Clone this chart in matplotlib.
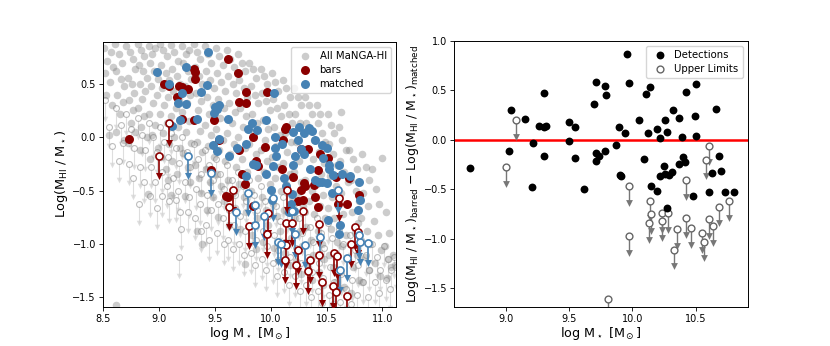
import matplotlib

matplotlib.use("Agg")
import matplotlib.pyplot as plt
import numpy as np

# ---- all MaNGA-HI sample (background cloud) ----
gray_det = [
    (8.51, 0.84), (8.54, 0.72), (8.57, 0.80), (8.52, 0.60), (8.56, 0.52), (8.59, 0.66), (8.53, 0.40), (8.58, 0.30), (8.55, 0.02),
    (8.61, 0.88), (8.64, 0.78), (8.67, 0.70), (8.62, 0.62), (8.66, 0.55), (8.69, 0.48), (8.63, 0.40), (8.68, 0.33), (8.65, 0.22), (8.62, 0.05), (8.69, -0.02),
    (8.71, 0.86), (8.74, 0.80), (8.77, 0.74), (8.79, 0.64), (8.72, 0.56), (8.76, 0.50), (8.78, 0.42), (8.73, 0.35), (8.77, 0.26), (8.75, 0.14), (8.79, 0.05), (8.72, -0.05),
    (8.81, 0.88), (8.84, 0.82), (8.87, 0.76), (8.82, 0.68), (8.86, 0.62), (8.89, 0.56), (8.83, 0.50), (8.88, 0.44), (8.85, 0.36), (8.81, 0.28), (8.87, 0.20), (8.84, 0.10), (8.89, 0.00), (8.83, -0.12),
    (8.91, 0.86), (8.94, 0.78), (8.97, 0.84), (8.92, 0.70), (8.96, 0.62), (8.99, 0.55), (8.93, 0.48), (8.98, 0.40), (8.95, 0.32), (8.91, 0.22), (8.97, 0.12), (8.94, 0.02), (8.99, -0.10), (8.92, -0.20), (8.90, -0.53),
    (9.01, 0.88), (9.04, 0.82), (9.07, 0.76), (9.02, 0.68), (9.06, 0.60), (9.09, 0.54), (9.03, 0.46), (9.08, 0.38), (9.05, 0.30), (9.01, 0.22), (9.07, 0.14), (9.04, 0.04), (9.09, -0.06), (9.02, -0.18), (9.06, -0.30), (9.08, -0.40),
    (9.11, 0.87), (9.14, 0.80), (9.17, 0.72), (9.12, 0.64), (9.16, 0.58), (9.19, 0.50), (9.13, 0.44), (9.18, 0.36), (9.15, 0.28), (9.11, 0.20), (9.17, 0.10), (9.14, 0.00), (9.19, -0.10), (9.12, -0.22), (9.16, -0.34), (9.11, -0.54),
    (9.21, 0.86), (9.24, 0.78), (9.27, 0.82), (9.22, 0.70), (9.26, 0.62), (9.29, 0.55), (9.23, 0.48), (9.28, 0.40), (9.25, 0.32), (9.21, 0.24), (9.27, 0.15), (9.24, 0.05), (9.29, -0.05), (9.22, -0.15), (9.26, -0.28), (9.28, -0.42), (9.23, -0.55),
    (9.31, 0.88), (9.34, 0.80), (9.37, 0.74), (9.32, 0.66), (9.36, 0.58), (9.39, 0.50), (9.33, 0.42), (9.38, 0.34), (9.35, 0.26), (9.31, 0.16), (9.37, 0.06), (9.34, -0.04), (9.39, -0.14), (9.32, -0.26), (9.36, -0.38), (9.38, -0.52), (9.34, -0.88), (9.39, -1.00),
    (9.41, 0.86), (9.44, 0.78), (9.47, 0.70), (9.42, 0.62), (9.46, 0.54), (9.49, 0.46), (9.43, 0.38), (9.48, 0.30), (9.45, 0.22), (9.41, 0.12), (9.47, 0.02), (9.44, -0.08), (9.49, -0.18), (9.42, -0.30), (9.46, -0.42), (9.48, -0.56), (9.43, -0.68),
    (9.51, 0.84), (9.54, 0.76), (9.57, 0.68), (9.52, 0.60), (9.56, 0.52), (9.59, 0.44), (9.53, 0.36), (9.58, 0.28), (9.55, 0.18), (9.51, 0.08), (9.57, -0.02), (9.54, -0.12), (9.59, -0.22), (9.52, -0.34), (9.56, -0.46), (9.58, -0.60), (9.53, -0.75),
    (9.61, 0.82), (9.64, 0.74), (9.67, 0.66), (9.62, 0.58), (9.66, 0.50), (9.69, 0.42), (9.63, 0.32), (9.68, 0.24), (9.65, 0.14), (9.61, 0.04), (9.67, -0.06), (9.64, -0.16), (9.69, -0.28), (9.62, -0.40), (9.66, -0.52), (9.68, -0.66), (9.63, -0.82),
    (9.71, 0.78), (9.74, 0.70), (9.77, 0.62), (9.72, 0.54), (9.76, 0.46), (9.79, 0.38), (9.73, 0.28), (9.78, 0.20), (9.75, 0.10), (9.71, 0.00), (9.77, -0.10), (9.74, -0.20), (9.79, -0.32), (9.72, -0.44), (9.76, -0.56), (9.78, -0.70), (9.73, -0.86), (9.77, -1.19),
    (9.81, 0.70), (9.84, 0.64), (9.87, 0.56), (9.82, 0.48), (9.86, 0.40), (9.89, 0.32), (9.83, 0.22), (9.88, 0.14), (9.85, 0.04), (9.81, -0.06), (9.87, -0.16), (9.84, -0.26), (9.89, -0.38), (9.82, -0.50), (9.86, -0.62), (9.88, -0.76), (9.83, -0.92), (9.87, -1.05),
    (9.91, 0.64), (9.94, 0.58), (9.97, 0.50), (9.92, 0.42), (9.96, 0.34), (9.99, 0.26), (9.93, 0.16), (9.98, 0.08), (9.95, -0.02), (9.91, -0.12), (9.97, -0.22), (9.94, -0.32), (9.99, -0.44), (9.92, -0.56), (9.96, -0.68), (9.98, -0.82), (9.93, -0.98),
    (10.01, 0.60), (10.04, 0.52), (10.07, 0.44), (10.02, 0.36), (10.06, 0.28), (10.09, 0.20), (10.03, 0.10), (10.08, 0.02), (10.05, -0.08), (10.01, -0.18), (10.07, -0.28), (10.04, -0.38), (10.09, -0.50), (10.02, -0.62), (10.06, -0.74), (10.08, -0.88), (10.03, -1.04), (10.07, -1.15),
    (10.11, 0.54), (10.14, 0.46), (10.17, 0.38), (10.12, 0.30), (10.16, 0.22), (10.19, 0.14), (10.13, 0.04), (10.18, -0.04), (10.15, -0.14), (10.11, -0.24), (10.17, -0.34), (10.14, -0.44), (10.19, -0.56), (10.12, -0.68), (10.16, -0.80), (10.18, -0.94), (10.13, -1.08), (10.17, -1.20),
    (10.21, 0.46), (10.24, 0.38), (10.27, 0.30), (10.22, 0.22), (10.26, 0.14), (10.29, 0.06), (10.23, -0.04), (10.28, -0.12), (10.25, -0.22), (10.21, -0.32), (10.27, -0.42), (10.24, -0.52), (10.29, -0.64), (10.22, -0.76), (10.26, -0.88), (10.28, -1.02), (10.23, -1.16), (10.27, -1.28),
    (10.31, 0.38), (10.34, 0.30), (10.37, 0.22), (10.32, 0.14), (10.36, 0.06), (10.39, -0.02), (10.33, -0.12), (10.38, -0.20), (10.35, -0.30), (10.31, -0.40), (10.37, -0.50), (10.34, -0.60), (10.39, -0.72), (10.32, -0.84), (10.36, -0.96), (10.38, -1.10), (10.33, -1.22), (10.37, -1.34),
    (10.41, 0.30), (10.44, 0.22), (10.47, 0.50), (10.42, 0.14), (10.46, 0.04), (10.49, -0.04), (10.43, -0.14), (10.48, -0.24), (10.45, -0.34), (10.41, -0.44), (10.47, -0.54), (10.44, -0.64), (10.49, -0.76), (10.42, -0.88), (10.46, -1.00), (10.48, -1.14), (10.43, -1.26), (10.47, -1.38),
    (10.51, 0.22), (10.54, 0.12), (10.57, 0.04), (10.52, -0.06), (10.56, -0.16), (10.59, -0.26), (10.53, -0.36), (10.58, -0.46), (10.55, -0.56), (10.51, -0.66), (10.57, -0.76), (10.54, -0.86), (10.59, -0.98), (10.52, -1.10), (10.56, -1.22), (10.58, -1.36),
    (10.63, 0.24), (10.61, 0.10), (10.64, -0.02), (10.67, -0.12), (10.62, -0.22), (10.66, -0.32), (10.69, -0.42), (10.63, -0.52), (10.68, -0.62), (10.65, -0.72), (10.61, -0.82), (10.67, -0.92), (10.64, -1.02), (10.69, -1.14), (10.62, -1.26), (10.66, -1.40),
    (10.70, -0.12), (10.74, -0.20), (10.77, -0.30), (10.72, -0.40), (10.76, -0.50), (10.79, -0.60), (10.73, -0.70), (10.78, -0.80), (10.75, -0.90), (10.71, -1.00), (10.77, -1.10), (10.74, -1.22), (10.79, -1.34), (10.72, -1.46),
    (10.82, -0.16), (10.85, -0.28), (10.88, -0.40), (10.83, -0.52), (10.87, -0.64), (10.81, -0.76), (10.86, -0.88), (10.89, -1.00), (10.84, -1.12), (10.88, -1.24), (10.82, -1.36),
    (10.91, -0.30), (10.94, -0.48), (10.97, -0.62), (10.92, -0.78), (10.96, -0.92), (10.99, -1.06), (10.93, -1.18), (10.98, -1.30),
    (11.00, -0.19), (11.03, -0.70), (11.06, -0.90), (11.02, -1.02), (11.05, -1.14), (11.08, -1.22), (11.04, -1.32),
    (11.09, -1.10), (11.11, -1.20), (8.62, -1.57),
]

gray_lim = [
    (8.52, 0.35), (8.55, 0.10), (8.58, -0.08),
    (8.62, 0.28), (8.66, 0.12), (8.68, -0.05), (8.64, -0.22),
    (8.71, 0.22), (8.75, 0.08), (8.78, -0.10), (8.73, -0.25), (8.77, -0.38),
    (8.81, 0.18), (8.85, 0.02), (8.88, -0.12), (8.83, -0.28), (8.87, -0.42), (8.82, -0.62),
    (8.91, 0.14), (8.95, 0.00), (8.98, -0.14), (8.93, -0.28), (8.97, -0.42), (8.92, -0.55), (8.98, -0.66),
    (9.01, 0.10), (9.05, -0.04), (9.08, -0.18), (9.03, -0.32), (9.07, -0.46), (9.03, -0.55), (9.09, -0.60),
    (9.11, 0.04), (9.15, -0.10), (9.18, -0.24), (9.13, -0.38), (9.17, -0.50), (9.15, -0.59), (9.19, -0.70),
    (9.21, 0.00), (9.25, -0.14), (9.28, -0.28), (9.23, -0.42), (9.27, -0.56), (9.20, -0.86), (9.18, -1.12), (9.26, -0.70),
    (9.31, -0.06), (9.35, -0.20), (9.38, -0.34), (9.33, -0.48), (9.37, -0.62), (9.32, -0.76), (9.38, -0.88),
    (9.41, -0.12), (9.45, -0.26), (9.48, -0.40), (9.43, -0.54), (9.47, -0.68), (9.42, -0.82), (9.45, -0.96),
    (9.51, -0.20), (9.55, -0.34), (9.58, -0.48), (9.53, -0.62), (9.57, -0.76), (9.52, -0.90), (9.58, -1.00),
    (9.61, -0.26), (9.65, -0.40), (9.68, -0.54), (9.63, -0.68), (9.67, -0.82), (9.62, -0.96), (9.66, -1.05),
    (9.71, -0.32), (9.75, -0.46), (9.78, -0.60), (9.73, -0.74), (9.77, -0.88), (9.72, -1.00), (9.76, -1.10),
    (9.81, -0.40), (9.85, -0.54), (9.88, -0.68), (9.83, -0.82), (9.87, -0.96), (9.82, -1.08), (9.86, -1.20),
    (9.91, -0.46), (9.95, -0.60), (9.98, -0.74), (9.93, -0.88), (9.97, -1.02), (9.92, -1.14), (9.96, -1.24),
    (10.01, -0.50), (10.05, -0.64), (10.08, -0.78), (10.03, -0.92), (10.07, -1.06), (10.02, -1.18), (10.06, -1.30),
    (10.11, -0.56), (10.15, -0.70), (10.18, -0.84), (10.13, -0.98), (10.17, -1.12), (10.12, -1.26), (10.16, -1.38),
    (10.21, -0.62), (10.25, -0.76), (10.28, -0.90), (10.23, -1.04), (10.27, -1.18), (10.22, -1.30), (10.26, -1.44),
    (10.31, -0.70), (10.35, -0.84), (10.38, -0.98), (10.33, -1.12), (10.37, -1.26), (10.32, -1.38), (10.36, -1.50),
    (10.41, -0.76), (10.45, -0.90), (10.48, -1.04), (10.43, -1.18), (10.47, -1.32), (10.42, -1.44), (10.46, -1.55),
    (10.51, -0.80), (10.55, -0.94), (10.58, -1.08), (10.53, -1.22), (10.57, -1.36), (10.52, -1.48), (10.56, -1.56),
    (10.61, -0.86), (10.65, -1.00), (10.68, -1.14), (10.63, -1.28), (10.67, -1.42), (10.62, -1.54),
    (10.71, -0.92), (10.75, -1.06), (10.78, -1.20), (10.73, -1.34), (10.77, -1.48), (10.72, -1.56),
    (10.81, -0.96), (10.85, -1.10), (10.88, -1.24), (10.83, -1.36), (10.87, -1.50),
    (10.91, -1.00), (10.95, -1.12), (10.98, -1.24), (10.93, -1.36), (10.97, -1.46),
    (11.01, -1.02), (11.05, -1.14), (11.08, -1.24), (11.03, -1.34), (11.07, -1.42),
    (11.10, -1.12), (11.12, -1.22),
]

# ---- barred galaxies ----
bars_det = [
    (8.73, -0.01), (9.05, 0.50), (9.09, 0.48), (9.16, 0.38), (9.18, 0.48), (9.21, 0.47), (9.26, 0.45),
    (9.21, 0.17), (9.31, 0.64), (9.32, 0.61), (9.32, 0.55), (9.31, 0.165), (9.495, 0.165), (9.54, -0.025),
    (9.47, -0.31), (9.62, 0.735), (9.71, 0.60), (9.78, 0.43), (9.72, 0.33), (9.78, 0.32), (9.97, 0.43),
    (9.72, -0.12), (9.74, -0.34), (9.77, -0.44), (9.84, 0.005), (9.87, -0.22), (9.89, -0.27), (9.95, -0.09),
    (10.10, -0.30), (10.13, 0.08), (10.14, 0.10), (10.11, -0.02), (9.60, -0.55), (9.62, -0.56), (9.84, -0.64),
    (10.20, -0.37), (10.27, -0.11), (10.33, -0.11), (10.30, -0.43), (10.31, -0.46), (10.29, -0.59),
    (10.39, -0.45), (10.40, -0.56), (10.42, -0.65), (10.42, -0.31), (10.44, -0.16), (10.51, -0.19),
    (10.58, -0.37), (10.70, -0.38), (10.60, -0.62), (10.68, -0.62), (10.79, -0.54), (10.24, -0.60), (10.27, -0.49),
]
bars_lim = [
    (9.09, 0.14), (9.00, -0.17), (9.66, -0.49), (9.63, -0.65), (9.81, -0.83), (9.98, -0.71), (9.97, -0.91),
    (10.15, -0.49), (10.14, -0.80), (10.19, -0.80), (10.14, -1.01), (10.13, -1.15), (10.29, -0.69),
    (10.24, -1.06), (10.23, -1.20), (10.33, -1.25), (10.35, -1.15), (10.43, -0.81), (10.43, -1.10),
    (10.46, -1.36), (10.56, -1.39), (10.57, -1.08), (10.59, -1.11), (10.60, -1.25), (10.58, -1.45),
    (10.61, -0.57), (10.72, -1.00), (10.75, -0.84), (10.78, -0.89), (10.68, -1.49),
]

# ---- matched control galaxies ----
matched_det = [
    (8.98, 0.61), (9.09, 0.50), (9.21, 0.42), (9.17, 0.32), (9.24, 0.31), (9.19, 0.16), (9.24, 0.66),
    (9.38, 0.43), (9.34, 0.17), (9.12, 0.11), (9.43, 0.49), (9.44, 0.80), (9.50, 0.29), (9.52, 0.27),
    (9.54, 0.30), (9.49, 0.23), (9.62, 0.17), (9.54, -0.01), (9.48, -0.07), (9.52, -0.13), (9.63, -0.17),
    (9.70, -0.10), (9.78, -0.36), (9.83, 0.14), (9.80, 0.08), (9.88, 0.07), (9.96, 0.16), (10.03, 0.42),
    (9.78, -0.06), (9.84, -0.25), (9.87, -0.26), (9.96, -0.34), (10.02, -0.27), (10.05, -0.17),
    (10.04, -0.10), (10.10, -0.06), (10.04, 0.00), (10.12, -0.38), (10.20, -0.26), (10.20, 0.05),
    (10.25, 0.10), (10.30, 0.04), (10.34, 0.09), (10.37, 0.06), (10.40, -0.02), (10.24, -0.02),
    (10.27, -0.11), (10.30, -0.16), (10.22, -0.17), (10.35, -0.30), (10.40, -0.40), (10.43, -0.42),
    (10.46, -0.42), (10.50, -0.43), (10.46, -0.07), (10.50, -0.10), (10.47, -0.19), (10.52, -0.26),
    (10.52, -0.30), (10.56, -0.35), (10.64, -0.34), (10.71, -0.36), (10.61, -0.26), (10.79, -0.42),
    (10.80, -0.59), (10.78, -0.68), (10.55, -0.52), (10.51, -0.77), (10.62, -0.82), (10.61, -0.91),
    (10.16, -0.70), (10.21, -0.69), (10.14, -0.46), (10.18, -0.62), (10.19, -0.53), (10.00, -0.49), (10.01, -0.59),
]
matched_lim = [
    (9.26, -0.17), (9.47, -0.33), (9.69, -0.70), (9.80, -0.52), (9.86, -0.63), (9.86, -0.82), (9.94, -0.74),
    (10.02, -0.57), (10.07, -0.98), (10.09, -1.00), (10.22, -0.91), (10.19, -0.69), (10.31, -1.01),
    (10.44, -0.93), (10.60, -0.49), (10.68, -1.13), (10.62, -1.24), (10.80, -0.98), (10.87, -0.99), (10.79, -0.92),
]

# ---- difference barred - matched ----
diff_det = [
    (8.72, -0.29), (9.04, 0.30), (9.03, -0.11), (9.155, 0.21), (9.216, -0.03), (9.21, -0.48), (9.26, 0.14),
    (9.30, 0.47), (9.305, 0.13), (9.32, 0.14), (9.30, -0.16), (9.50, 0.18), (9.50, -0.015), (9.545, 0.13),
    (9.55, -0.18), (9.62, -0.50), (9.71, 0.585), (9.70, 0.365), (9.71, -0.13), (9.71, -0.21), (9.74, -0.16),
    (9.78, -0.11), (9.785, 0.54), (9.79, 0.45), (9.895, 0.125), (9.87, -0.05), (9.90, -0.36), (9.91, -0.37),
    (9.945, 0.07), (9.96, 0.87), (9.975, 0.57), (10.055, 0.196), (10.09, -0.195), (10.11, 0.46), (10.12, 0.07),
    (10.14, 0.53), (10.15, -0.47), (10.19, 0.105), (10.19, -0.52), (10.215, -0.365), (10.22, 0.017),
    (10.25, -0.27), (10.26, 0.196), (10.27, 0.08), (10.26, -0.345), (10.275, -0.69), (10.29, -0.36),
    (10.31, -0.33), (10.32, 0.30), (10.365, 0.22), (10.37, -0.25), (10.39, 0.03), (10.40, -0.17),
    (10.415, -0.22), (10.42, 0.48), (10.48, -0.57), (10.49, 0.24), (10.505, 0.565), (10.505, 0.04),
    (10.60, -0.53), (10.63, -0.335), (10.66, 0.31), (10.68, -0.16), (10.70, -0.32), (10.73, -0.53), (10.80, -0.53),
]
diff_lim = [
    (9.08, 0.20), (9.00, -0.28), (9.97, -0.465), (9.97, -0.97), (9.805, -1.615), (10.14, -0.62), (10.13, -0.84),
    (10.15, -0.75), (10.23, -0.74), (10.235, -0.82), (10.28, -0.74), (10.35, -0.90), (10.33, -1.11),
    (10.42, -0.405), (10.42, -0.79), (10.465, -0.89), (10.55, -0.94), (10.565, -1.03), (10.58, -0.20),
    (10.60, -0.06), (10.605, -0.80), (10.635, -0.875), (10.68, -0.675), (10.76, -0.62),
]

BAR_RED = "#8b0000"
MATCH_BLUE = "#4682b4"


def draw_limits(ax, points, color, edge, size, length, lw, alpha=1.0, face="white", head=20, zorder=3):
    x, y = np.array(points).T
    ax.vlines(x, y - length, y, color=color, lw=lw, alpha=alpha, zorder=zorder)
    ax.scatter(x, y - length, marker="v", s=head, color=color, alpha=alpha, linewidths=0, zorder=zorder)
    ax.scatter(x, y, s=size, facecolor=face, edgecolor=edge, linewidths=lw, alpha=alpha, zorder=zorder + 0.1)


def style_axes(ax):
    for spine in ax.spines.values():
        spine.set_linewidth(0.7)
    ax.tick_params(labelsize=7, width=0.6, length=3, pad=2)


fig = plt.figure(figsize=(8.3, 3.46), dpi=100)
ax1 = fig.add_axes([0.124, 0.113, 0.353, 0.767])
ax2 = fig.add_axes([0.547, 0.113, 0.354, 0.769])

# left panel
draw_limits(ax1, gray_lim, "#d4d4d4", "#a8a8a8", 18, 0.18, 0.8, alpha=0.75, head=16, zorder=1)
gx, gy = np.array(gray_det).T
ax1.scatter(gx, gy, s=30, color="gray", alpha=0.4, linewidths=0, zorder=1.5, label="All MaNGA-HI")

bx, by = np.array(bars_det).T
ax1.scatter(bx, by, s=42, color=BAR_RED, linewidths=0, zorder=2, label="bars")
mx, my = np.array(matched_det).T
ax1.scatter(mx, my, s=42, color=MATCH_BLUE, linewidths=0, zorder=2.1, label="matched")
draw_limits(ax1, bars_lim, BAR_RED, BAR_RED, 26, 0.19, 1.2, head=26, zorder=3)
draw_limits(ax1, matched_lim, MATCH_BLUE, MATCH_BLUE, 26, 0.19, 1.2, head=26, zorder=3)

ax1.set_xlim(8.5, 11.12)
ax1.set_ylim(-1.59, 0.9)
ax1.set_xticks([8.5, 9.0, 9.5, 10.0, 10.5, 11.0])
ax1.set_yticks([-1.5, -1.0, -0.5, 0.0, 0.5])
ax1.set_xlabel(r"log M$_\star$ [M$_\odot$]", fontsize=9.2, labelpad=0.5)
ax1.set_ylabel(r"Log(M$_{\rm HI}$ / M$_\star$)", fontsize=9.3, labelpad=2)
ax1.legend(loc="upper right", fontsize=7.3, handletextpad=0.4, borderpad=0.4, labelspacing=0.4)
style_axes(ax1)

# right panel
ax2.axhline(0.0, color="red", lw=1.8, zorder=1)
dx, dy = np.array(diff_det).T
ax2.scatter(dx, dy, s=32, color="black", linewidths=0, zorder=3, label="Detections")
draw_limits(ax2, diff_lim, "#777777", "#666666", 24, 0.17, 1.0, head=24, zorder=2)
ax2.scatter([], [], s=24, facecolor="white", edgecolor="#666666", linewidths=1.0, label="Upper Limits")

ax2.set_xlim(8.593, 10.91)
ax2.set_ylim(-1.69, 1.0)
ax2.set_xticks([9.0, 9.5, 10.0, 10.5])
ax2.set_yticks([-1.5, -1.0, -0.5, 0.0, 0.5, 1.0])
ax2.set_xlabel(r"log M$_\star$ [M$_\odot$]", fontsize=9.2, labelpad=0.5)
ax2.set_ylabel(
    r"Log(M$_{\rm HI}$ / M$_\star$)$_{\rm barred}$ $-$ Log(M$_{\rm HI}$ / M$_\star$)$_{\rm matched}$",
    fontsize=9, labelpad=2,
)
ax2.legend(loc="upper right", fontsize=7.3, handletextpad=0.4, borderpad=0.4, labelspacing=0.4)
style_axes(ax2)

fig.savefig("out.png", dpi=100)
